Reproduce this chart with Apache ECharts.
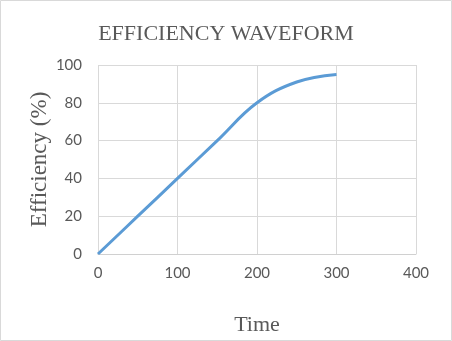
<!DOCTYPE html>
<html lang="en">
<head>
    <meta charset="UTF-8">
    <title>Efficiency</title>
    <script src="https://cdn.jsdelivr.net/npm/echarts@6/dist/echarts.min.js"></script>
</head>
<style type="text/css">
    body{margin:0;background:#fff;}
    #main{width:452px;height:341px;}
</style>
<body>
<div id="main"></div>
<script type="text/javascript">
    // data
    var time = [0, 50, 100, 150, 200, 250, 300];
    var efficiency = [0, 20, 40, 60, 80, 91, 95];
    var xTicks = [0, 100, 200, 300, 400];
    var yTicks = [0, 20, 40, 60, 80, 100];

    var pts = [];
    for (var i = 0; i < time.length; i++) {
        pts.push([time[i], efficiency[i]]);
    }

    var myChart = echarts.init(document.getElementById('main'));
    var serif = '"Liberation Serif", "Times New Roman", serif';
    var sans = 'Lato, "Open Sans", sans-serif';
    var option = {
        animation: false,
        graphic: [{type: 'rect', shape: {x: 0.5, y: 0.5, width: 451, height: 340},
            style: {fill: 'none', stroke: '#d9d9d9', lineWidth: 1}}],
        title: {text: 'EFFICIENCY WAVEFORM', left: 'center', top: 18,
            textStyle: {fontFamily: serif, fontWeight: 'normal', fontSize: 22, color: '#595959'}},
        grid: {left: 98, right: 36, top: 65, bottom: 86},
        xAxis: {type: 'value', min: xTicks[0], max: xTicks[xTicks.length - 1], interval: 100,
            name: 'Time', nameLocation: 'middle', nameGap: 60, nameMoveOverlap: false,
            nameTextStyle: {fontFamily: serif, fontSize: 22, color: '#595959'},
            axisLine: {lineStyle: {color: '#d0d0d0'}}, axisTick: {show: false},
            axisLabel: {fontFamily: sans, fontSize: 15, color: '#595959', margin: 12},
            splitLine: {show: true, lineStyle: {color: '#d9d9d9'}}},
        yAxis: {type: 'value', min: yTicks[0], max: yTicks[yTicks.length - 1], interval: 20,
            name: 'Efficiency (%)', nameLocation: 'middle', nameGap: 47, nameMoveOverlap: false,
            nameTextStyle: {fontFamily: serif, fontSize: 23, color: '#595959'},
            axisLine: {show: false}, axisTick: {show: false},
            axisLabel: {fontFamily: sans, fontSize: 15, color: '#595959', margin: 16},
            splitLine: {lineStyle: {color: '#d9d9d9'}}},
        series: [{type: 'line', data: pts, smooth: 0.4, symbol: 'none',
            lineStyle: {color: '#5b9bd5', width: 3}}]
    };
    myChart.setOption(option);
</script>
</body>
</html>
